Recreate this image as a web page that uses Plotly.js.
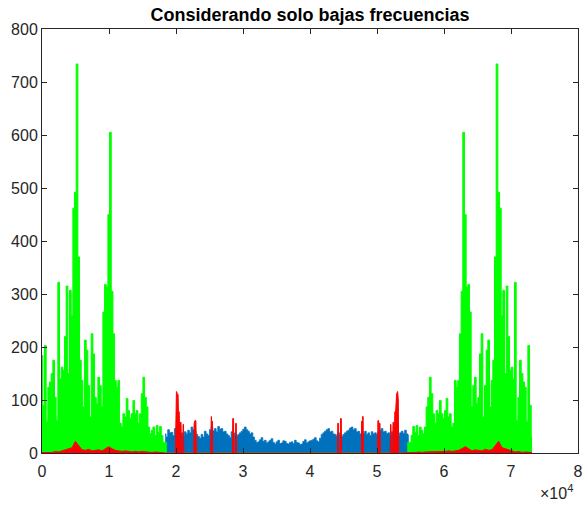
<!DOCTYPE html>
<html>
<head>
<meta charset="utf-8">
<script src="https://cdn.plot.ly/plotly-3.0.1.min.js"></script>
<style>html,body{margin:0;padding:0;background:#fff;}</style>
</head>
<body>
<div id="chart" style="width:583px;height:505px;"></div>
<script>
// ---- data ----
// x tick positions and labels (axis scaled by 10^4)
const xTickVals = [0, 10000, 20000, 30000, 40000, 50000, 60000, 70000, 80000];
const xTickText = ['0', '1', '2', '3', '4', '5', '6', '7', '8'];

// full spectrum (blue), visible band between the two low-frequency parts
const blueStart = 18390;
const blueStep = 249;
const blueVals = [36,30,44,38,39,33,46,42,40,34,38,32,40,36,43,38,49,44,41,35,
  31,28,35,30,41,36,33,44,49,42,46,40,50,45,46,40,41,36,33,29,
  40,35,38,32,35,38,41,45,49,44,41,36,38,30,24,20,21,25,29,22,
  24,19,21,24,27,20,17,21,24,18,19,23,22,18,17,20,21,18,24,20,
  19,16,17,22,25,19,21,23,24,26,29,23,21,28,35,38,41,44,46,40,
  41,36,35,32,38,34,31,35,38,41,43,47,49,44,46,40,41,36,40,37,
  41,35,38,33,40,36,38,35,40,43,46,40,41,37,38,34,40,36,38,31,
  33,38,41,37,43,36,33];

// low-frequency spectrum (green): lower band and upper band
const greenLowStart = 0;
const greenHighStart = 54715;
const greenStep = 249;
const greenLow = [184,90,203,60,124,134,150,175,105,61,322,140,162,156,220,315,150,307,259,462,
  492,734,370,175,137,87,213,194,127,68,225,187,105,93,143,127,87,266,318,313,
  450,605,305,225,137,124,137,56,49,74,68,103,80,65,74,99,74,80,56,74,
  112,143,105,87,49,36,43,49,33,52,39,50,33,20,20];
const greenHigh = [20,20,33,50,39,52,33,49,43,36,49,87,105,143,112,74,56,80,74,99,
  74,65,80,103,68,74,49,56,137,124,137,225,305,605,450,313,318,266,87,127,
  143,93,105,187,225,68,127,194,213,87,137,175,370,734,492,462,259,307,150,315,
  220,156,162,140,322,61,105,175,150,134,124,60,203,90,30];

// red series: small values under the green bands, spikes in the middle band
const redLowStart = 0;
const redHighStart = 54714;
const redStep = 498;
const redLow = [1,1,2,1,3,2,4,6,8,10,22,14,6,5,7,4,5,6,4,8,12,8,5,4,3,4,3,2,3,2,3,2,2,1,2,1,1,0];
const redHigh = [0,1,1,2,1,2,2,3,2,3,2,3,4,3,4,5,8,12,8,4,6,5,4,7,5,6,14,22,10,8,6,4,2,3,1,2,1,1];
const redSpikeX = [19911,19961,20061,20210,20310,20360,20480,20560,20580,20630,20680,20750,20800,21008,21058,21118,21168,
  22650,22700,22820,22970,23050,
  25161,25211,25281,25331,25361,25381,25431,25461,
  28428,28468,28588,28628,28878,28908,28998,29028,
  44112,44142,44232,44262,44512,44552,44672,44712,
  47679,47709,47759,47779,47809,47859,47929,47979,
  50090,50130,50250,50290,50320,50350,50450,50490,
  51972,52022,52082,52132,52340,52390,52460,52510,52560,52580,52660,52780,52830,52930,53079,53179,53229];
const redSpikeY = [0,100,116,112,110,78,78,20,0,0,58,58,0,0,54,54,0,
  0,55,61,61,0,
  0,69,69,0,0,60,60,0,
  0,65,65,0,0,56,56,0,
  0,56,56,0,0,65,65,0,
  0,60,60,0,0,69,69,0,
  0,61,61,0,0,56,56,0,
  0,54,54,0,0,58,58,0,0,20,78,78,110,112,116,100,0];

// ---- build traces ----
const blueX = blueVals.map((_, i) => blueStart + i * blueStep);

const gX = [], gY = [];
greenLow.forEach((v, i) => { gX.push(greenLowStart + i * greenStep); gY.push(v); });
gX.push(greenLowStart + greenLow.length * greenStep); gY.push(0);
gX.push(greenHighStart - greenStep); gY.push(0);
greenHigh.forEach((v, i) => { gX.push(greenHighStart + i * greenStep); gY.push(v); });

const rX = [], rY = [];
redLow.forEach((v, i) => { rX.push(redLowStart + i * redStep); rY.push(v); });
redSpikeX.forEach((x, i) => { rX.push(x); rY.push(redSpikeY[i]); });
redHigh.forEach((v, i) => { rX.push(redHighStart + i * redStep); rY.push(v); });

const traces = [
  { x: blueX, y: blueVals, type: 'scatter', mode: 'lines', fill: 'tozeroy',
    line: { color: '#0072BD', width: 0.8, shape: 'hvh' }, fillcolor: '#0072BD', hoverinfo: 'skip' },
  { x: gX, y: gY, type: 'scatter', mode: 'lines', fill: 'tozeroy',
    line: { color: '#00FF00', width: 1, shape: 'hvh' }, fillcolor: '#00FF00', hoverinfo: 'skip' },
  { x: rX, y: rY, type: 'scatter', mode: 'lines', fill: 'tozeroy',
    line: { color: '#FF0000', width: 1 }, fillcolor: '#FF0000', hoverinfo: 'skip' }
];

const axisFont = { family: 'Liberation Sans, Arial, sans-serif', size: 16, color: '#262626' };

const layout = {
  width: 583, height: 505,
  margin: { l: 42, r: 5, t: 29, b: 52, pad: 0 },
  paper_bgcolor: '#ffffff', plot_bgcolor: '#ffffff',
  showlegend: false, hovermode: false,
  title: { text: '<b>Considerando solo bajas frecuencias</b>',
    font: { family: 'Liberation Sans, Arial, sans-serif', size: 18, color: '#000000' },
    x: 0.5, xref: 'paper', y: 0.971, yref: 'container', yanchor: 'middle' },
  xaxis: { range: [0, 80000], tickvals: xTickVals, ticktext: xTickText,
    ticks: 'inside', ticklen: 5, tickcolor: '#262626', tickwidth: 1,
    showline: true, linecolor: '#262626', linewidth: 1, mirror: 'ticks',
    showgrid: false, zeroline: false, tickfont: axisFont, fixedrange: true,
    ticklabelstandoff: 4 },
  yaxis: { range: [0, 800], dtick: 100, tick0: 0,
    ticks: 'inside', ticklen: 5, tickcolor: '#262626', tickwidth: 1,
    showline: true, linecolor: '#262626', linewidth: 1, mirror: 'ticks',
    showgrid: false, zeroline: false, tickfont: axisFont, fixedrange: true },
  annotations: [{ text: '×10<sup>4</sup>', xref: 'paper', yref: 'paper', x: 0.994, y: -0.092,
    xanchor: 'right', yanchor: 'middle', showarrow: false, font: axisFont }]
};

Plotly.newPlot('chart', traces, layout, { staticPlot: true, displayModeBar: false });
</script>
</body>
</html>
